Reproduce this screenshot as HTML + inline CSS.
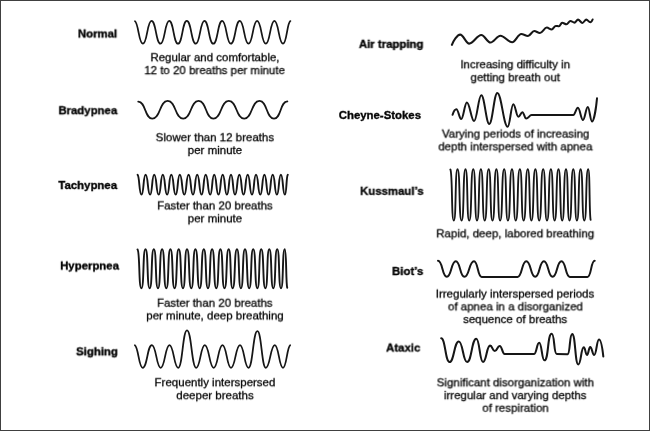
<!DOCTYPE html>
<html><head><meta charset="utf-8"><title>Breathing patterns</title><style>
html,body{margin:0;padding:0;background:#fff}
#f{position:relative;width:650px;height:431px;overflow:hidden;background:#fff;font-family:"Liberation Sans",sans-serif;color:#161616}
#bd{position:absolute;left:0;top:0;width:648px;height:429px;border:1px solid #404040}
svg{position:absolute;left:0;top:0;filter:blur(0.35px)}
svg path{fill:none;stroke:#161616;stroke-width:2.0;stroke-linecap:round;stroke-linejoin:round}
.l,.d{position:absolute;left:0;top:0;transform-origin:0 0;filter:blur(0.05px) contrast(1.0);line-height:14px;white-space:nowrap;color:#000}
.l{font-weight:bold;font-size:11.4px;text-align:right;width:200px;-webkit-text-stroke:0.35px #000}
.d{font-size:11.5px;text-align:center;width:300px;-webkit-text-stroke:0.28px #000}
</style></head><body><div id="f"><div id="bd"></div>
<svg width="650" height="431" viewBox="0 0 650 431">
<path id="normal" d="M134.94 21.14C138.57 23.55 138.81 43.70 142.90 43.70C147.20 43.70 147.20 20.90 151.50 20.90C156.00 20.90 156.00 43.70 160.50 43.70C164.85 43.70 164.85 20.90 169.20 20.90C173.60 20.90 173.60 43.70 178.00 43.70C182.40 43.70 182.40 20.90 186.80 20.90C191.30 20.90 191.30 43.70 195.80 43.70C200.10 43.70 200.10 20.90 204.40 20.90C208.85 20.90 208.85 43.70 213.30 43.70C217.75 43.70 217.75 20.90 222.20 20.90C226.50 20.90 226.50 43.70 230.80 43.70C235.30 43.70 235.30 20.90 239.80 20.90C244.15 20.90 244.15 43.70 248.50 43.70C252.80 43.70 252.80 20.90 257.10 20.90C261.45 20.90 261.45 43.70 265.80 43.70C270.10 43.70 270.10 20.90 274.40 20.90C278.70 20.90 278.70 43.70 283.00 43.70C286.75 43.70 286.94 23.12 290.34 21.07" style="stroke-width:1.75"/>
<path id="brady" d="M138.20 101.60C145.96 101.60 144.54 118.60 152.30 118.60C160.77 118.60 159.23 100.90 167.70 100.90C176.22 100.90 174.67 118.60 183.20 118.60C191.67 118.60 190.13 100.90 198.60 100.90C206.74 100.90 205.26 118.60 213.40 118.60C221.87 118.60 220.33 100.90 228.80 100.90C237.27 100.90 235.73 118.60 244.20 118.60C252.62 118.60 251.08 100.90 259.50 100.90C267.48 100.90 266.02 118.60 274.00 118.60C281.37 118.60 280.03 101.40 287.40 101.40" style="stroke-width:1.75"/>
<path id="tachy" d="M137.56 174.84C139.70 176.64 139.05 194.60 141.50 194.60C143.96 194.60 143.14 174.70 145.60 174.70C148.30 174.70 147.40 194.60 150.10 194.60C152.56 194.60 151.74 174.70 154.20 174.70C156.90 174.70 156.00 194.60 158.70 194.60C161.16 194.60 160.34 174.70 162.80 174.70C165.38 174.70 164.52 194.60 167.10 194.60C169.62 194.60 168.78 174.70 171.30 174.70C173.94 174.70 173.06 194.60 175.70 194.60C178.16 194.60 177.34 174.70 179.80 174.70C182.50 174.70 181.60 194.60 184.30 194.60C186.88 194.60 186.02 174.70 188.60 174.70C191.24 174.70 190.36 194.60 193.00 194.60C195.52 194.60 194.68 174.70 197.20 174.70C199.84 174.70 198.96 194.60 201.60 194.60C204.06 194.60 203.24 174.70 205.70 174.70C208.40 174.70 207.50 194.60 210.20 194.60C212.60 194.60 211.80 174.70 214.20 174.70C216.78 174.70 215.92 194.60 218.50 194.60C221.02 194.60 220.18 174.70 222.70 174.70C225.22 174.70 224.38 194.60 226.90 194.60C229.36 194.60 228.54 174.70 231.00 174.70C233.40 174.70 232.60 194.60 235.00 194.60C237.64 194.60 236.76 174.70 239.40 174.70C241.86 174.70 241.04 194.60 243.50 194.60C246.02 194.60 245.18 174.70 247.70 174.70C250.28 174.70 249.42 194.60 252.00 194.60C254.40 194.60 253.60 174.70 256.00 174.70C258.58 174.70 257.72 194.60 260.30 194.60C262.76 194.60 261.94 174.70 264.40 174.70C266.92 174.70 266.08 194.60 268.60 194.60C271.06 194.60 270.24 174.70 272.70 174.70C275.22 174.70 274.38 194.60 276.90 194.60C279.30 194.60 278.50 174.70 280.90 174.70C283.30 174.70 282.50 194.60 284.90 194.60C286.67 194.60 286.20 176.64 287.74 174.84" style="stroke-width:1.9"/>
<path id="hyper" d="M137.53 249.48C140.01 252.36 138.58 288.30 141.40 288.30C144.27 288.30 142.63 249.30 145.50 249.30C148.44 249.30 146.76 288.30 149.70 288.30C152.57 288.30 150.93 249.30 153.80 249.30C156.74 249.30 155.06 288.30 158.00 288.30C160.87 288.30 159.23 249.30 162.10 249.30C165.04 249.30 163.36 288.30 166.30 288.30C169.17 288.30 167.53 249.30 170.40 249.30C173.34 249.30 171.66 288.30 174.60 288.30C177.47 288.30 175.83 249.30 178.70 249.30C181.71 249.30 179.99 288.30 183.00 288.30C185.80 288.30 184.20 249.30 187.00 249.30C190.01 249.30 188.29 288.30 191.30 288.30C194.17 288.30 192.53 249.30 195.40 249.30C198.41 249.30 196.69 288.30 199.70 288.30C202.57 288.30 200.93 249.30 203.80 249.30C206.74 249.30 205.06 288.30 208.00 288.30C210.87 288.30 209.23 249.30 212.10 249.30C215.04 249.30 213.36 288.30 216.30 288.30C219.17 288.30 217.53 249.30 220.40 249.30C223.27 249.30 221.63 288.30 224.50 288.30C227.44 288.30 225.76 249.30 228.70 249.30C231.43 249.30 229.87 288.30 232.60 288.30C235.68 288.30 233.92 249.30 237.00 249.30C239.73 249.30 238.17 288.30 240.90 288.30C243.77 288.30 242.13 249.30 245.00 249.30C247.94 249.30 246.26 288.30 249.20 288.30C252.00 288.30 250.40 249.30 253.20 249.30C256.14 249.30 254.46 288.30 257.40 288.30C260.06 288.30 258.54 249.30 261.20 249.30C264.14 249.30 262.46 288.30 265.40 288.30C268.13 288.30 266.57 249.30 269.30 249.30C272.10 249.30 270.50 288.30 273.30 288.30C276.03 288.30 274.47 249.30 277.20 249.30C279.86 249.30 278.34 288.30 281.00 288.30C283.66 288.30 282.14 249.30 284.80 249.30C286.62 249.30 285.78 283.03 287.23 287.75" style="stroke-width:1.9"/>
<path id="sigh" d="M134.89 345.26C138.44 347.31 138.79 367.80 142.70 367.80C147.21 367.80 147.39 345.10 151.90 345.10C156.21 345.10 156.39 367.80 160.70 367.80C165.01 367.80 165.19 345.10 169.50 345.10C173.76 345.10 173.94 367.80 178.20 367.80C182.51 367.80 182.69 330.30 187.00 330.30C191.51 330.30 191.69 367.80 196.20 367.80C200.41 367.80 200.59 345.10 204.80 345.10C209.16 345.10 209.34 367.80 213.70 367.80C218.01 367.80 218.19 345.10 222.50 345.10C226.66 345.10 226.84 367.80 231.00 367.80C235.41 367.80 235.59 345.10 240.00 345.10C244.16 345.10 244.34 367.80 248.50 367.80C252.86 367.80 253.04 331.10 257.40 331.10C261.52 331.10 261.68 367.80 265.80 367.80C270.21 367.80 270.39 345.10 274.80 345.10C278.82 345.10 278.98 367.80 283.00 367.80C286.58 367.80 286.90 347.31 290.16 345.26" style="stroke-width:1.75"/>
<path id="air" d="M451.90 44.90C453.14 41.30 457.21 34.60 460.20 34.60C463.44 34.60 465.96 43.60 469.20 43.60C473.56 43.60 476.94 35.00 481.30 35.00C484.58 35.00 487.12 42.50 490.40 42.50C494.00 42.50 496.80 35.70 500.40 35.70C504.65 35.70 507.95 42.30 512.20 42.30C515.44 42.30 517.96 34.00 521.20 34.00C523.65 34.00 525.55 36.00 528.00 36.00C530.23 36.00 531.97 31.00 534.20 31.00C536.25 31.00 537.85 33.00 539.90 33.00C542.38 33.00 544.32 27.60 546.80 27.60C548.56 27.60 549.94 29.50 551.70 29.50C553.18 29.50 554.32 25.90 555.80 25.90C556.95 25.90 557.85 26.30 559.00 26.30C560.12 26.30 560.98 22.70 562.10 22.70C563.68 22.70 564.92 24.30 566.50 24.30C567.90 24.30 569.00 20.90 570.40 20.90C571.88 20.90 573.02 22.60 574.50 22.60C575.76 22.60 576.74 19.60 578.00 19.60C579.58 19.60 580.82 22.90 582.40 22.90C583.80 22.90 584.90 19.60 586.30 19.60C587.70 19.60 588.80 22.20 590.20 22.20C591.06 22.20 592.24 20.45 592.60 19.50" style="stroke-width:2.05"/>
<path id="cheyne" d="M452.60 114.80C453.17 112.88 454.88 109.30 456.40 109.30C458.32 109.30 459.28 119.00 461.20 119.00C463.48 119.00 464.62 102.40 466.90 102.40C469.78 102.40 471.22 121.00 474.10 121.00C476.98 121.00 478.42 95.20 481.30 95.20C484.50 95.20 486.10 123.90 489.30 123.90C492.50 123.90 494.10 93.00 497.30 93.00C501.46 93.00 503.54 126.80 507.70 126.80C509.94 126.80 511.06 104.20 513.30 104.20C515.34 104.20 516.36 116.80 518.40 116.80C520.00 116.80 520.80 112.20 522.40 112.20C523.92 112.20 524.68 118.60 526.20 118.60C528.36 118.60 529.44 115.00 531.60 115.00L573.30 115.00C575.14 115.00 576.06 107.80 577.90 107.80C579.94 107.80 580.96 120.00 583.00 120.00C584.92 120.00 585.88 107.10 587.80 107.10C589.48 107.10 590.32 121.40 592.00 121.40C594.00 121.40 596.25 106.39 597.00 98.30" style="stroke-width:2.0"/>
<path id="kuss" d="M450.39 169.54C452.58 173.32 451.31 220.60 453.80 220.60C456.39 220.60 454.91 169.30 457.50 169.30C460.37 169.30 458.73 220.60 461.60 220.60C464.33 220.60 462.77 169.30 465.50 169.30C468.09 169.30 466.61 220.60 469.20 220.60C472.07 220.60 470.43 169.30 473.30 169.30C475.89 169.30 474.41 220.60 477.00 220.60C479.73 220.60 478.17 169.30 480.90 169.30C483.56 169.30 482.04 220.60 484.70 220.60C487.50 220.60 485.90 169.30 488.70 169.30C491.36 169.30 489.84 220.60 492.50 220.60C495.23 220.60 493.67 169.30 496.40 169.30C498.99 169.30 497.51 220.60 500.10 220.60C502.97 220.60 501.33 169.30 504.20 169.30C506.79 169.30 505.31 220.60 507.90 220.60C510.77 220.60 509.13 169.30 512.00 169.30C514.59 169.30 513.11 220.60 515.70 220.60C518.64 220.60 516.96 169.30 519.90 169.30C522.49 169.30 521.01 220.60 523.60 220.60C526.54 220.60 524.86 169.30 527.80 169.30C530.32 169.30 528.88 220.60 531.40 220.60C534.20 220.60 532.60 169.30 535.40 169.30C538.06 169.30 536.54 220.60 539.20 220.60C542.00 220.60 540.40 169.30 543.20 169.30C545.86 169.30 544.34 220.60 547.00 220.60C549.73 220.60 548.17 169.30 550.90 169.30C553.49 169.30 552.01 220.60 554.60 220.60C557.33 220.60 555.77 169.30 558.50 169.30C561.09 169.30 559.61 220.60 562.20 220.60C564.86 220.60 563.34 169.30 566.00 169.30C568.45 169.30 567.05 220.60 569.50 220.60C572.16 220.60 570.64 169.30 573.30 169.30C575.82 169.30 574.38 220.60 576.90 220.60C579.49 220.60 578.01 169.30 580.60 169.30C583.19 169.30 581.71 220.60 584.30 220.60C587.03 220.60 585.47 169.30 588.20 169.30C590.02 169.30 589.18 213.67 590.63 219.88" style="stroke-width:1.85"/>
<path id="biot" d="M438.00 260.80C442.75 260.80 442.05 276.80 446.80 276.80C451.66 276.80 450.94 261.20 455.80 261.20C460.44 261.20 459.76 276.80 464.40 276.80C469.58 276.80 468.82 261.20 474.00 261.20C478.10 261.20 477.50 276.90 481.60 276.90L517.60 276.90C522.30 276.90 521.60 261.20 526.30 261.20C531.11 261.20 530.39 276.80 535.20 276.80C539.90 276.80 539.20 261.20 543.90 261.20C548.60 261.20 547.90 276.80 552.60 276.80C557.41 276.80 556.69 261.30 561.50 261.30C565.98 261.30 565.32 276.90 569.80 276.90L587.50 276.90C591.39 276.90 590.81 260.80 594.70 260.80" style="stroke-width:2.0"/>
<path id="ataxic" d="M441.20 338.20C445.35 338.20 445.35 362.00 449.50 362.00C454.15 362.00 454.15 341.40 458.80 341.40C462.95 341.40 462.95 362.00 467.10 362.00C471.70 362.00 471.70 338.70 476.30 338.70C479.65 338.70 479.65 362.00 483.00 362.00C486.55 362.00 486.55 345.60 490.10 345.60C492.45 345.60 492.45 351.00 494.80 351.00C497.25 351.00 497.25 345.90 499.70 345.90C502.15 345.90 502.15 353.90 504.60 353.90L534.20 353.90C536.70 353.90 536.70 342.80 539.20 342.80C541.80 342.80 541.80 360.30 544.40 360.30C548.78 360.30 547.32 333.80 551.70 333.80C554.80 333.80 553.60 353.90 556.70 353.90L567.50 354.30C570.41 354.30 569.29 334.10 572.20 334.10C575.55 334.10 574.95 364.40 578.30 364.40C581.05 364.40 581.05 347.30 583.80 347.30C585.40 347.30 585.40 354.90 587.00 354.90C588.60 354.90 588.60 347.10 590.20 347.10C592.20 347.10 592.20 354.90 594.20 354.90C596.60 354.90 596.60 339.50 599.00 339.50C601.15 339.50 602.65 350.49 603.30 356.40" style="stroke-width:2.05"/>
</svg>
<div class="l" id="t0" style="transform:translate(-82.79px,26.50px) rotate(0.001deg)">Normal</div>
<div class="l" id="t1" style="transform:translate(-82.72px,103.25px) rotate(0.001deg)">Bradypnea</div>
<div class="l" id="t2" style="transform:translate(-82.87px,178.05px) rotate(0.001deg)">Tachypnea</div>
<div class="l" id="t3" style="transform:translate(-81.04px,258.55px) rotate(0.001deg)">Hyperpnea</div>
<div class="l" id="t4" style="transform:translate(-82.17px,344.35px) rotate(0.001deg)">Sighing</div>
<div class="l" id="t5" style="transform:translate(223.45px,36.85px) rotate(0.001deg)">Air trapping</div>
<div class="l" id="t6" style="transform:translate(221.03px,107.95px) rotate(0.001deg)">Cheyne-Stokes</div>
<div class="l" id="t7" style="transform:translate(223.57px,183.85px) rotate(0.001deg)">Kussmaul’s</div>
<div class="l" id="t8" style="transform:translate(223.27px,264.05px) rotate(0.001deg)">Biot’s</div>
<div class="l" id="t9" style="transform:translate(220.35px,340.55px) rotate(0.001deg)">Ataxic</div>
<div class="d" id="t10" style="transform:translate(64.94px,50.25px) rotate(0.001deg)">Regular and comfortable,</div>
<div class="d" id="t11" style="transform:translate(64.59px,63.15px) rotate(0.001deg)">12 to 20 breaths per minute</div>
<div class="d" id="t12" style="transform:translate(64.88px,130.25px) rotate(0.001deg)">Slower than 12 breaths</div>
<div class="d" id="t13" style="transform:translate(64.92px,143.05px) rotate(0.001deg)">per minute</div>
<div class="d" id="t14" style="transform:translate(64.89px,198.45px) rotate(0.001deg)">Faster than 20 breaths</div>
<div class="d" id="t15" style="transform:translate(64.97px,211.35px) rotate(0.001deg)">per minute</div>
<div class="d" id="t16" style="transform:translate(64.75px,295.75px) rotate(0.001deg)">Faster than 20 breaths</div>
<div class="d" id="t17" style="transform:translate(65.02px,308.45px) rotate(0.001deg)">per minute, deep breathing</div>
<div class="d" id="t18" style="transform:translate(64.97px,375.25px) rotate(0.001deg)">Frequently interspersed</div>
<div class="d" id="t19" style="transform:translate(65.04px,388.25px) rotate(0.001deg)">deeper breaths</div>
<div class="d" id="t20" style="transform:translate(365.22px,57.25px) rotate(0.001deg)">Increasing difficulty in</div>
<div class="d" id="t21" style="transform:translate(365.30px,70.25px) rotate(0.001deg)">getting breath out</div>
<div class="d" id="t22" style="transform:translate(365.67px,126.60px) rotate(0.001deg)">Varying periods of increasing</div>
<div class="d" id="t23" style="transform:translate(365.36px,139.40px) rotate(0.001deg)">depth interspersed with apnea</div>
<div class="d" id="t24" style="transform:translate(365.28px,226.35px) rotate(0.001deg)">Rapid, deep, labored breathing</div>
<div class="d" id="t25" style="transform:translate(365.06px,286.60px) rotate(0.001deg)">Irregularly interspersed periods</div>
<div class="d" id="t26" style="transform:translate(365.48px,299.40px) rotate(0.001deg)">of apnea in a disorganized</div>
<div class="d" id="t27" style="transform:translate(365.18px,312.15px) rotate(0.001deg)">sequence of breaths</div>
<div class="d" id="t28" style="transform:translate(365.45px,375.35px) rotate(0.001deg)">Significant disorganization with</div>
<div class="d" id="t29" style="transform:translate(365.25px,388.15px) rotate(0.001deg)">irregular and varying depths</div>
<div class="d" id="t30" style="transform:translate(365.53px,400.75px) rotate(0.001deg)">of respiration</div>
</div></body></html>
